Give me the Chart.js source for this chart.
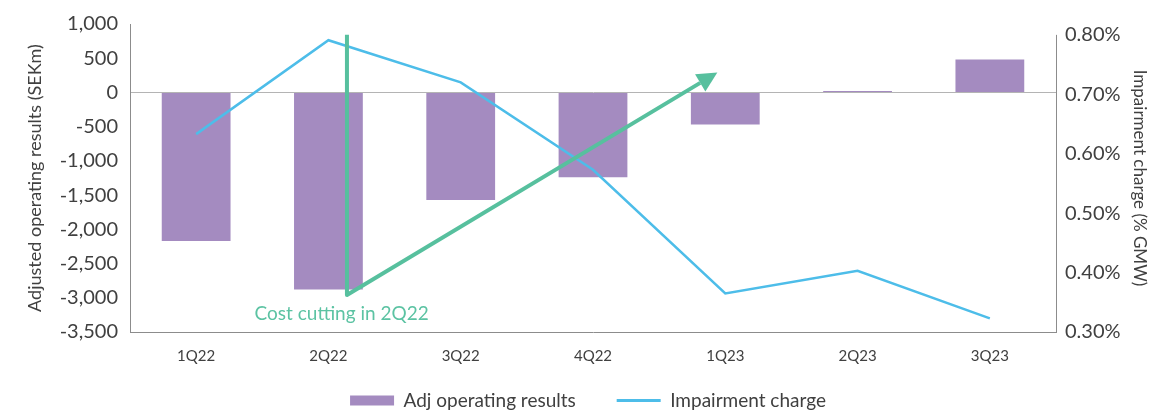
<!DOCTYPE html>
<html>
<head>
<meta charset="utf-8">
<script src="https://cdn.jsdelivr.net/npm/chart.js@4"></script>
<style>
html,body{margin:0;padding:0;background:#fff;}
#wrap{width:1176px;height:412px;position:relative;}
</style>
</head>
<body>
<div id="wrap"><canvas id="c" width="1176" height="412"></canvas></div>
<script>
const categories = ['1Q22','2Q22','3Q22','4Q22','1Q23','2Q23','3Q23'];
const adjOperatingResults = [-2170, -2880, -1570, -1240, -470, 20, 480];
const impairmentCharge = [0.633, 0.791, 0.720, 0.573, 0.365, 0.403, 0.323];
const leftTicks = [1000, 500, 0, -500, -1000, -1500, -2000, -2500, -3000, -3500];
const rightTicks = [0.3, 0.4, 0.5, 0.6, 0.7, 0.8];
const annotationText = 'Cost cutting in 2Q22';
// annotation anchors in data units
const arrowStart = {cat: 1.14, pct: 0.8};
const arrowBend = {cat: 1.14, val: -2960};
const arrowEnd = {cat: 3.94, val: 290};
const labelPos = {cat: 1.1, val: -3240};

const FONT = 'Lato, "Open Sans", sans-serif';
const GREEN = '#57c09e';
const GREY_TEXT = '#404040';

const annotationPlugin = {
  id: 'annot',
  afterDatasetsDraw(chart) {
    const {ctx} = chart;
    const x = chart.scales.x, y = chart.scales.y, y1 = chart.scales.y1;
    const cw = x.getPixelForValue(1) - x.getPixelForValue(0);
    const px = c => x.getPixelForValue(0) + c * cw;
    ctx.save();
    ctx.strokeStyle = '#8c8c8c';
    ctx.lineWidth = 1;
    ctx.beginPath();
    const rx = Math.round(chart.chartArea.right) + 0.5;
    ctx.moveTo(rx, y1.getPixelForValue(0.8));
    ctx.lineTo(rx, y1.getPixelForValue(0.3));
    ctx.stroke();
    ctx.restore();

    ctx.save();
    ctx.strokeStyle = GREEN;
    ctx.fillStyle = GREEN;
    ctx.lineWidth = 4;
    ctx.lineJoin = 'round';
    const x0 = px(arrowStart.cat), y0 = y1.getPixelForValue(arrowStart.pct);
    const xb = px(arrowBend.cat), yb = y.getPixelForValue(arrowBend.val);
    const xe = px(arrowEnd.cat), ye = y.getPixelForValue(arrowEnd.val);
    const ang = Math.atan2(ye - yb, xe - xb);
    const headLen = 20, headW = 10;
    const bx = xe - headLen * Math.cos(ang), by = ye - headLen * Math.sin(ang);
    ctx.beginPath();
    ctx.moveTo(x0, y0);
    ctx.lineTo(xb, yb);
    ctx.lineTo(bx, by);
    ctx.stroke();
    ctx.beginPath();
    ctx.moveTo(xe, ye);
    ctx.lineTo(bx + headW * Math.sin(ang), by - headW * Math.cos(ang));
    ctx.lineTo(bx - headW * Math.sin(ang), by + headW * Math.cos(ang));
    ctx.closePath();
    ctx.fill();
    ctx.font = '19px ' + FONT;
    ctx.textAlign = 'center';
    ctx.textBaseline = 'middle';
    ctx.fillStyle = '#5cc3a3';
    ctx.fillText(annotationText, px(labelPos.cat), y.getPixelForValue(labelPos.val));
    ctx.restore();
  }
};

new Chart(document.getElementById('c'), {
  type: 'bar',
  data: {
    labels: categories,
    datasets: [
      {
        type: 'line',
        label: 'Impairment charge',
        data: impairmentCharge,
        yAxisID: 'y1',
        borderColor: '#4dbde9',
        backgroundColor: '#4dbde9',
        borderWidth: 2.5,
        pointRadius: 0,
        tension: 0,
        order: 0
      },
      {
        type: 'bar',
        label: 'Adj operating results',
        data: adjOperatingResults,
        yAxisID: 'y',
        backgroundColor: '#a48bc0',
        borderWidth: 0,
        categoryPercentage: 1,
        barPercentage: 0.52,
        order: 1
      }
    ]
  },
  options: {
    responsive: false,
    animation: false,
    devicePixelRatio: 1,
    layout: {padding: {left: 0, right: 0, top: 21, bottom: -8}},
    plugins: {
      tooltip: {enabled: false},
      legend: {
        position: 'bottom',
        labels: {
          usePointStyle: true,
          pointStyleWidth: 44,
          boxHeight: 10,
          padding: 2,
          color: GREY_TEXT,
          font: {family: FONT, size: 19},
          generateLabels(chart) {
            const ds = chart.data.datasets;
            return [
              {text: ds[1].label + '\u00A0\u00A0\u00A0\u00A0\u00A0\u00A0\u00A0\u00A0', fillStyle: ds[1].backgroundColor, strokeStyle: ds[1].backgroundColor, lineWidth: 0, pointStyle: 'rect', datasetIndex: 1, fontColor: GREY_TEXT},
              {text: ds[0].label, fillStyle: ds[0].borderColor, strokeStyle: ds[0].borderColor, lineWidth: 3, pointStyle: 'line', datasetIndex: 0, fontColor: GREY_TEXT}
            ];
          }
        }
      }
    },
    scales: {
      x: {
        grid: {display: false, drawTicks: false},
        border: {display: true, color: '#8c8c8c', width: 1},
        ticks: {color: GREY_TEXT, font: {family: FONT, size: 15}, padding: 15, maxRotation: 0},
        afterFit(s) { s.height = 57; }
      },
      y: {
        position: 'left',
        min: -3500,
        max: 1000,
        afterBuildTicks(s) { s.ticks = leftTicks.map(v => ({value: v})); },
        grid: {
          drawTicks: false,
          color: ctx => (ctx.tick && ctx.tick.value === 0) ? '#b4b4b4' : 'rgba(0,0,0,0)',
          lineWidth: 1
        },
        border: {display: true, color: '#8c8c8c', width: 1},
        ticks: {
          color: GREY_TEXT,
          font: {family: FONT, size: 20},
          padding: 12,
          callback: v => v.toLocaleString('en-US')
        },
        title: {
          display: true,
          text: 'Adjusted operating results (SEKm)',
          color: GREY_TEXT,
          font: {family: FONT, size: 18},
          padding: {top: 24, bottom: 0}
        },
        afterFit(s) { s.width = 130; }
      },
      y1: {
        position: 'right',
        min: 0.3,
        max: 0.8183,
        afterBuildTicks(s) { s.ticks = rightTicks.map(v => ({value: v})); },
        grid: {display: false, drawTicks: false},
        border: {display: false},
        ticks: {
          color: GREY_TEXT,
          font: {family: FONT, size: 20},
          padding: 9,
          callback: v => v.toFixed(2) + '%'
        },
        title: {
          display: true,
          text: 'Impairment charge (% GMW)',
          color: GREY_TEXT,
          font: {family: FONT, size: 17},
          padding: {top: 26, bottom: 0}
        },
        afterFit(s) { s.width = 120; }
      }
    }
  },
  plugins: [annotationPlugin]
});
</script>
</body>
</html>
